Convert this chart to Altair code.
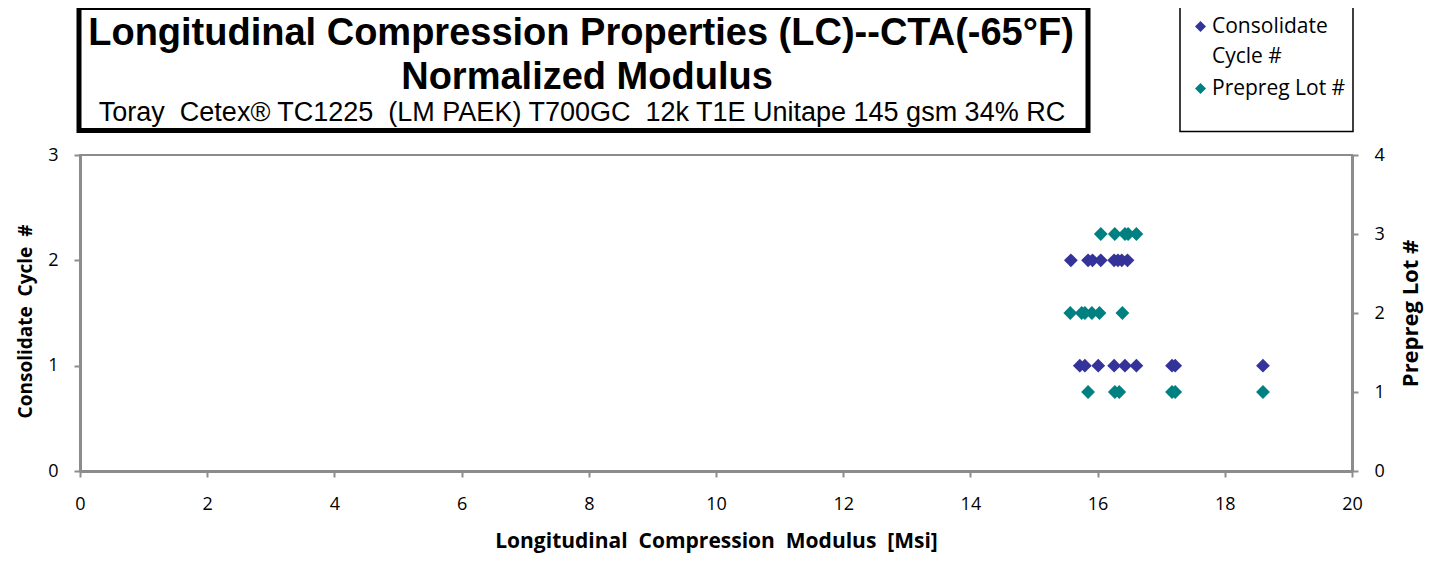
import altair as alt
import pandas as pd

# Consolidate Cycle # series (left axis)
cc_modulus = [15.58, 15.85, 15.92, 16.05, 16.26, 16.32, 16.38, 16.47,
              15.72, 15.80, 16.01, 16.26, 16.43, 16.61, 17.17, 17.22, 18.60]
cc_cycle = [2, 2, 2, 2, 2, 2, 2, 2,
            1, 1, 1, 1, 1, 1, 1, 1, 1]

# Prepreg Lot # series (right axis)
pl_modulus = [16.05, 16.27, 16.43, 16.48, 16.61,
              15.57, 15.75, 15.80, 15.91, 16.03, 16.39,
              15.85, 16.27, 16.34, 17.17, 17.22, 18.60]
pl_lot = [3, 3, 3, 3, 3,
          2, 2, 2, 2, 2, 2,
          1, 1, 1, 1, 1, 1]

series_names = ["Consolidate Cycle #", "Prepreg Lot #"]
series_colors = ["#333399", "#008080"]
x_ticks = [0, 2, 4, 6, 8, 10, 12, 14, 16, 18, 20]
left_ticks = [0, 1, 2, 3]
right_ticks = [0, 1, 2, 3, 4]

NB = "\u00a0"
title_line1 = "Longitudinal Compression Properties (LC)--CTA(-65°F)"
title_line2 = "Normalized Modulus"
subtitle = f"Toray {NB}Cetex® TC1225 {NB}(LM PAEK) T700GC {NB}12k T1E Unitape 145 gsm 34% RC"
x_title = f"Longitudinal {NB}Compression {NB}Modulus {NB}[Msi]"
left_title = f"Consolidate {NB}Cycle {NB}#"
right_title = "Prepreg Lot #"

cc_df = pd.DataFrame({"x": cc_modulus, "y": cc_cycle, "series": series_names[0]})
pl_df = pd.DataFrame({"x": pl_modulus, "y": pl_lot, "series": series_names[1]})

AX_FONT = "Open Sans"
TITLE_FONT = "Liberation Sans"
GRAY = "#8c8c8c"

xenc = alt.X("x:Q", scale=alt.Scale(domain=[0, 20], nice=False),
             axis=alt.Axis(values=x_ticks, title=x_title, titleFontSize=21,
                           titlePadding=17, labelPadding=18))
color_scale = alt.Scale(domain=series_names, range=series_colors)

cc = alt.Chart(cc_df).mark_point(shape="diamond", filled=True, size=190, opacity=1).encode(
    x=xenc,
    y=alt.Y("y:Q", scale=alt.Scale(domain=[0, 3], nice=False),
            axis=alt.Axis(values=left_ticks, title=left_title, orient="left", titleFontSize=19,
                          titleAngle=270, titlePadding=12, labelPadding=16, titleY=166)),
    color=alt.Color("series:N", scale=color_scale,
                    legend=alt.Legend(title=None, orient="none", legendX=1110, legendY=-139,
                                      symbolType="diamond", symbolSize=121,
                                      labelFont=AX_FONT, labelFontSize=21, labelColor="black",
                                      labelBaseline="middle", labelOffset=1,
                                      labelExpr="datum.label == 'Consolidate Cycle #' ? ['Consolidate', 'Cycle #'] : datum.label",
                                      rowPadding=10, padding=0, labelLimit=300)),
)

pl = alt.Chart(pl_df).mark_point(shape="diamond", filled=True, size=190, opacity=1).encode(
    x=xenc,
    y=alt.Y("y:Q", scale=alt.Scale(domain=[0, 4], nice=False),
            axis=alt.Axis(values=right_ticks, title=right_title, orient="right", titleFontSize=22,
                          titleAngle=270, titlePadding=38, labelPadding=16)),
    color=alt.Color("series:N", scale=color_scale),
)

box_df = pd.DataFrame({"k": [0]})
title_box = alt.Chart(box_df).mark_rect(fill="white", stroke="black", strokeWidth=5).encode(
    x=alt.value(-1), x2=alt.value(1008), y=alt.value(-147.5), y2=alt.value(-24.5))
legend_box = alt.Chart(box_df).mark_rect(fill="white", stroke="black", strokeWidth=1.5).encode(
    x=alt.value(1100), x2=alt.value(1273), y=alt.value(-148), y2=alt.value(-23.5))

t1 = alt.Chart(box_df).mark_text(text=title_line1, font=TITLE_FONT, fontSize=38, fontWeight="bold",
                                 color="black", align="center", baseline="alphabetic").encode(
    x=alt.value(501), y=alt.value(-110))
t2 = alt.Chart(box_df).mark_text(text=title_line2, font=TITLE_FONT, fontSize=38, fontWeight="bold",
                                 color="black", align="center", baseline="alphabetic").encode(
    x=alt.value(507), y=alt.value(-66))
t3 = alt.Chart(box_df).mark_text(text=subtitle, font=TITLE_FONT, fontSize=27,
                                 color="black", align="center", baseline="alphabetic").encode(
    x=alt.value(502), y=alt.value(-34))

chart = alt.layer(title_box, legend_box, t1, t2, t3, cc, pl).resolve_scale(y="independent").properties(
    width=1272, height=316,
    padding={"left": 72, "top": 147, "right": 73, "bottom": 83},
    autosize=alt.AutoSizeParams(type="none"),
).configure(style={"guide-label": {"lineHeight": 30}}).configure_view(
    stroke=GRAY, strokeWidth=2).configure_axis(
    domainColor=GRAY, domainWidth=3, tickColor=GRAY, tickWidth=2, tickSize=6,
    labelFont=AX_FONT, labelFontSize=18, labelColor="black", labelFlush=False,
    titleFont=AX_FONT, titleFontSize=20, titleFontWeight="bold", titleColor="black",
    grid=False,
)

chart.save("out.html", embed_options={"renderer": "svg", "actions": False})
